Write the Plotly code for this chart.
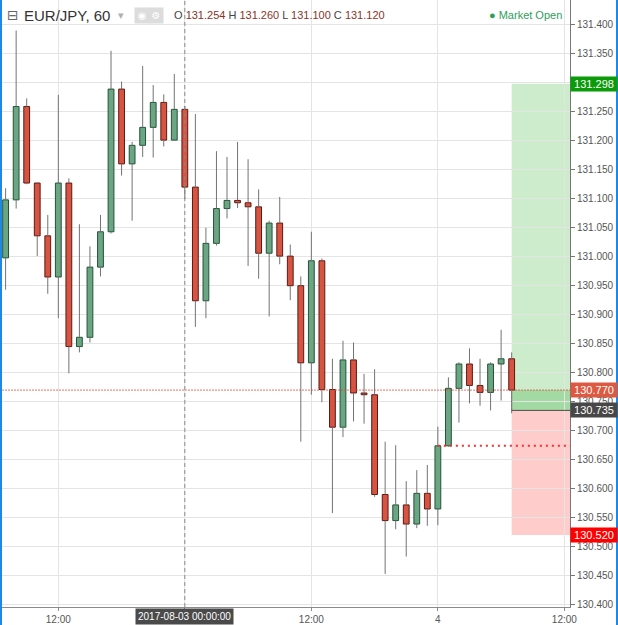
import plotly.graph_objects as go
import pandas as pd

# ---------------- data ----------------
times = pd.date_range("2017-08-02 07:00", periods=49, freq="h")
opens = [130.998, 131.098, 131.259, 131.127, 131.036, 130.965, 131.127, 130.845, 130.861, 130.982,
         131.043, 131.289, 131.160, 131.192, 131.223, 131.266, 131.201, 131.254, 131.120, 130.924,
         131.023, 131.083, 131.097, 131.093, 131.086, 131.006, 131.058, 131.001, 130.950, 130.817,
         130.993, 130.771, 130.706, 130.822, 130.765, 130.762, 130.590, 130.545, 130.572, 130.539,
         130.592, 130.565, 130.674, 130.773, 130.815, 130.778, 130.766, 130.815, 130.824]
highs = [131.118, 131.390, 131.273, 131.128, 131.072, 131.279, 131.135, 131.056, 131.018, 131.072,
         131.355, 131.302, 131.198, 131.329, 131.296, 131.280, 131.315, 131.260, 131.246, 131.050,
         131.182, 131.172, 131.198, 131.168, 131.116, 131.062, 131.103, 131.021, 130.966, 131.043,
         130.997, 130.824, 130.855, 130.852, 130.798, 130.806, 130.681, 130.675, 130.613, 130.632,
         130.641, 130.707, 130.792, 130.818, 130.842, 130.824, 130.818, 130.874, 130.835]
lows = [130.943, 131.083, 131.125, 131.001, 130.936, 130.894, 130.799, 130.835, 130.852, 130.966,
        131.040, 131.140, 131.062, 131.172, 131.171, 131.190, 131.200, 131.100, 130.879, 130.894,
        131.019, 131.066, 131.084, 130.984, 130.962, 130.897, 130.987, 130.925, 130.681, 130.762,
        130.749, 130.558, 130.689, 130.716, 130.712, 130.586, 130.453, 130.530, 130.483, 130.532,
        130.536, 130.537, 130.672, 130.714, 130.747, 130.743, 130.735, 130.752, 130.730]
closes = [131.098, 131.259, 131.127, 131.036, 130.965, 131.127, 130.845, 130.861, 130.982, 131.043,
          131.289, 131.160, 131.192, 131.223, 131.266, 131.201, 131.254, 131.120, 130.924, 131.023,
          131.083, 131.097, 131.093, 131.086, 131.006, 131.058, 131.001, 130.950, 130.817, 130.993,
          130.771, 130.706, 130.822, 130.765, 130.762, 130.590, 130.545, 130.572, 130.539, 130.592,
          130.565, 130.674, 130.773, 130.815, 130.778, 130.766, 130.815, 130.824, 130.770]

symbol = "EUR/JPY, 60"
crosshair_index = 17
crosshair_label = "2017-08-03 00:00:00"
x_range = ["2017-08-02 06:39:30", "2017-08-04 12:32:00"]
y_range = [130.396, 131.4426]
tick_times = ["2017-08-02 12:00", "2017-08-03 00:00", "2017-08-03 12:00",
              "2017-08-04 00:00", "2017-08-04 12:00"]
tick_text = ["12:00", "", "12:00", "4", "12:00"]
y_tick_vals = [130.40, 130.45, 130.50, 130.55, 130.60, 130.65, 130.70, 130.75, 130.80,
               130.85, 130.90, 130.95, 131.00, 131.05, 131.10, 131.15, 131.20, 131.25,
               131.30, 131.35, 131.40]
y_tick_text = ["130.400", "130.450", "130.500", "130.550", "130.600", "130.650", "130.700",
               "130.750", "130.800", "130.850", "130.900", "130.950", "131.000", "131.050",
               "131.100", "131.150", "131.200", "131.250", "", "131.350", "131.400"]
position_start = "2017-08-04 07:00"
target_price = 131.298
entry_price = 130.735
stop_price = 130.520
last_price = 130.770
alert_start = "2017-08-04 00:00"
alert_price = 130.674

# ---------------- styles ----------------
UP_FILL, DOWN_FILL = "#6ba583", "#d75442"
UP_LINE, DOWN_LINE = "#225437", "#5b1a13"
WICK = "#737375"
GRID = "#e4e4e4"
FONT = "Liberation Sans, Arial, sans-serif"

W, H = 618, 625
ML, MR, MT, MB = 2, 48, 0, 18
PW, PH = W - ML - MR, H - MT - MB


def px(xp):
    return (xp - ML) / PW


def py(yp):
    return 1 - (yp - MT) / PH


up = [c >= o for o, c in zip(opens, closes)]
bases = [min(o, c) for o, c in zip(opens, closes)]
heights = [max(abs(c - o), 0.0006) for o, c in zip(opens, closes)]
fills = [UP_FILL if u else DOWN_FILL for u in up]
borders = [UP_LINE if u else DOWN_LINE for u in up]

wx, wy = [], []
for t, o, h, l, c in zip(times, opens, highs, lows, closes):
    top, bot = max(o, c), min(o, c)
    if h > top:
        wx += [t, t, None]
        wy += [h, top, None]
    if l < bot:
        wx += [t, t, None]
        wy += [bot, l, None]

fig = go.Figure()
fig.add_trace(go.Scatter(x=wx, y=wy, mode="lines", line=dict(color=WICK, width=1),
                         hoverinfo="skip", showlegend=False))
fig.add_trace(go.Bar(x=times, y=heights, base=bases, width=0.55 * 3600000,
                     marker=dict(color=fills, line=dict(color=borders, width=1)),
                     hoverinfo="skip", showlegend=False))

shapes = []
# position tool
shapes.append(dict(type="rect", xref="x", yref="y", x0=position_start, x1=x_range[1],
                   y0=entry_price, y1=target_price, fillcolor="rgba(0,160,0,0.2)",
                   line=dict(width=0), layer="below"))
shapes.append(dict(type="rect", xref="x", yref="y", x0=position_start, x1=x_range[1],
                   y0=entry_price, y1=last_price, fillcolor="rgba(0,150,0,0.2)",
                   line=dict(width=0), layer="below"))
shapes.append(dict(type="rect", xref="x", yref="y", x0=position_start, x1=x_range[1],
                   y0=stop_price, y1=entry_price, fillcolor="rgba(255,0,0,0.2)",
                   line=dict(width=0), layer="below"))
shapes.append(dict(type="line", xref="x", yref="y", x0=position_start, x1=x_range[1],
                   y0=entry_price, y1=entry_price, line=dict(color="#4a4a4a", width=1)))
shapes.append(dict(type="line", xref="x", yref="y", x0=position_start, x1=position_start,
                   y0=entry_price, y1=last_price,
                   line=dict(color="#777", width=1, dash="2px,2px")))
# last price line
shapes.append(dict(type="line", xref="paper", yref="y", x0=0, x1=1,
                   y0=last_price, y1=last_price,
                   line=dict(color="rgba(224,70,50,0.75)", width=1, dash="2px,1px")))
# alert line
shapes.append(dict(type="line", xref="x", yref="y", x0=alert_start, x1=x_range[1],
                   y0=alert_price, y1=alert_price,
                   line=dict(color="#ff2a2a", width=2, dash="2px,4px")))
# crosshair
shapes.append(dict(type="line", xref="x", yref="paper", x0=times[crosshair_index],
                   x1=times[crosshair_index], y0=0, y1=1,
                   line=dict(color="#8a8a8a", width=1, dash="4px,3px")))
# window borders
shapes.append(dict(type="line", xref="paper", yref="paper", x0=px(1), x1=px(1),
                   y0=py(H), y1=py(0), line=dict(color="#1e88e5", width=2)))
shapes.append(dict(type="line", xref="paper", yref="paper", x0=px(617), x1=px(617),
                   y0=py(H), y1=py(0), line=dict(color="#1e88e5", width=2)))

annotations = []
# price labels on right axis
for price, bg in [(target_price, "#0a9a0a"), (last_price, "#dc5a42"),
                  (entry_price, "#474747"), (stop_price, "#ff0000")]:
    annotations.append(dict(xref="paper", yref="y", x=1, y=price, xanchor="left",
                            yanchor="middle", text=f"{price:.3f}", showarrow=False,
                            bgcolor=bg, borderpad=1, width=44, align="center",
                            font=dict(family=FONT, size=11, color="white")))
# crosshair date label
annotations.append(dict(xref="x", yref="paper", x=times[crosshair_index], y=0,
                        xanchor="center", yanchor="top", yshift=-1,
                        text=crosshair_label, showarrow=False, bgcolor="#4a4a4a",
                        borderpad=2, font=dict(family=FONT, size=10, color="white")))
# header
hy = py(15)
annotations.append(dict(xref="paper", yref="paper", x=px(5), y=hy, xanchor="left",
                        yanchor="middle", text="⊟", showarrow=False,
                        font=dict(family="DejaVu Sans", size=14, color="#666")))
annotations.append(dict(xref="paper", yref="paper", x=px(22), y=hy, xanchor="left",
                        yanchor="middle", text=symbol, showarrow=False,
                        font=dict(family=FONT, size=15, color="#333")))
annotations.append(dict(xref="paper", yref="paper", x=px(116), y=hy, xanchor="left",
                        yanchor="middle", text="▾", showarrow=False,
                        font=dict(family="DejaVu Sans", size=11, color="#b0b0b0")))
for xi, glyph in [(134, "◉"), (148, "⚙")]:
    annotations.append(dict(xref="paper", yref="paper", x=px(xi), y=hy, xanchor="left",
                            yanchor="middle", text=glyph, showarrow=False,
                            bgcolor="#dcdcdc", borderpad=1, width=12, height=13,
                            font=dict(family="DejaVu Sans", size=10, color="white")))
oc = "#8b3328"
ohlc = (f"O <span style='color:{oc}'>{opens[crosshair_index]:.3f}</span> "
        f"H <span style='color:{oc}'>{highs[crosshair_index]:.3f}</span> "
        f"L <span style='color:{oc}'>{lows[crosshair_index]:.3f}</span> "
        f"C <span style='color:{oc}'>{closes[crosshair_index]:.3f}</span>")
annotations.append(dict(xref="paper", yref="paper", x=px(172), y=hy, xanchor="left",
                        yanchor="middle", text=ohlc, showarrow=False,
                        font=dict(family=FONT, size=11, color="#444")))
annotations.append(dict(xref="paper", yref="paper", x=px(564), y=hy, xanchor="right",
                        yanchor="middle", text="● Market Open", showarrow=False,
                        font=dict(family=FONT, size=11, color="#2e9e5b")))

fig.update_layout(
    width=W, height=H,
    margin=dict(l=ML, r=MR, t=MT, b=MB, pad=0),
    paper_bgcolor="white", plot_bgcolor="white",
    barmode="overlay", showlegend=False, hovermode=False,
    shapes=shapes, annotations=annotations,
    xaxis=dict(type="date", range=x_range, tickvals=tick_times, ticktext=tick_text,
               showgrid=True, gridcolor=GRID, gridwidth=1, zeroline=False,
               showline=True, linecolor="#8c8c8c", linewidth=1,
               ticks="outside", ticklen=3, tickcolor="#8c8c8c",
               tickfont=dict(family=FONT, size=10, color="#555"), fixedrange=True),
    yaxis=dict(side="right", range=y_range, tickvals=y_tick_vals, ticktext=y_tick_text,
               showgrid=True, gridcolor=GRID, gridwidth=1, zeroline=False,
               showline=True, linecolor="#777", linewidth=1,
               ticks="outside", ticklen=4, tickcolor="#777",
               tickfont=dict(family=FONT, size=10, color="#555"), fixedrange=True),
)

fig.write_html("out.html", config={"displayModeBar": False, "staticPlot": True})
